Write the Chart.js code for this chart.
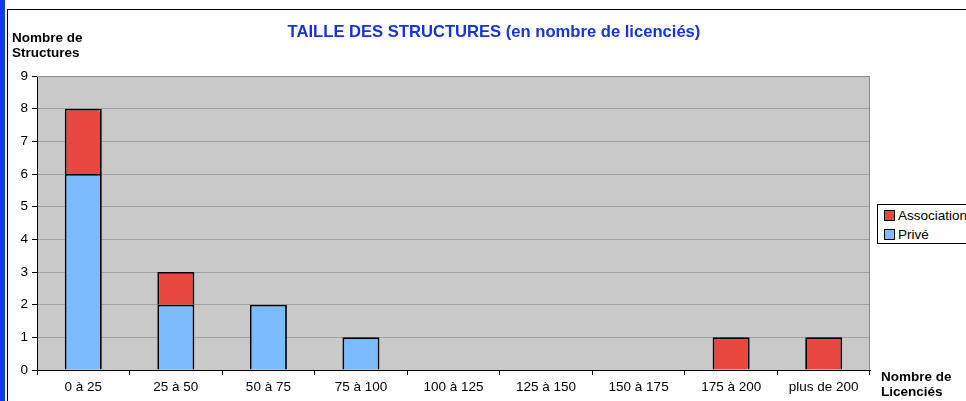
<!DOCTYPE html>
<html><head><meta charset="utf-8">
<script src="https://cdn.jsdelivr.net/npm/chart.js@4"></script>
<style>
html,body{margin:0;padding:0;background:#fff;width:966px;height:401px;overflow:hidden;font-family:"Liberation Sans",Arial,sans-serif;}
#strip{position:absolute;left:0;top:0;width:5px;height:401px;background:#1238F0;}
#frame{position:absolute;left:7px;top:9px;width:970px;height:400px;border-left:1px solid #000;border-top:1px solid #000;}
canvas{position:absolute;left:0;top:0;}
.lbl{position:absolute;font-weight:bold;font-size:13.5px;line-height:15px;color:#000;white-space:nowrap;}
#title{position:absolute;left:0;width:988px;top:22px;text-align:center;font-weight:bold;font-size:16.6px;color:#1633E0;white-space:nowrap;}
#legend{position:absolute;left:877px;top:204px;width:100px;height:38px;border:1px solid #000;background:#fff;font-size:13.5px;}
#legend div{position:absolute;left:6px;height:15px;line-height:15px;white-space:nowrap;}
#legend span{display:inline-block;width:9px;height:9px;border:1px solid #000;margin-right:3px;vertical-align:-1px;}
</style></head>
<body>
<div id="strip"></div>
<div id="frame"></div>
<canvas id="c" width="966" height="401"></canvas>
<div id="title">TAILLE DES STRUCTURES (en nombre de licenciés)</div>
<div class="lbl" style="left:12px;top:30px;">Nombre de<br>Structures</div>
<div class="lbl" style="left:881px;top:369px;">Nombre de<br>Licenciés</div>
<div id="legend"></div>
<script>
const categories = ["0 à 25","25 à 50","50 à 75","75 à 100","100 à 125","125 à 150","150 à 175","175 à 200","plus de 200"];
const prive = [6,2,2,1,0,0,0,0,0];
const association = [2,1,0,0,0,0,0,1,1];
const yTicks = [0,1,2,3,4,5,6,7,8,9];
const seriesNames = ["Association","Privé"];
const colors = {"Association":"#E8473F","Privé":"#7BBBFF"};

const legend = document.getElementById('legend');
seriesNames.forEach((n,i)=>{
  const d=document.createElement('div');
  d.style.top=(3+i*19)+'px';
  d.innerHTML='<span style="background:'+colors[n]+'"></span>'+n;
  legend.appendChild(d);
});

const bgPlugin = {
  id:'bg',
  beforeDraw(chart){
    const {ctx,chartArea:a}=chart;
    ctx.save();
    ctx.fillStyle='#C9C9C9';
    ctx.fillRect(a.left,a.top,a.right-a.left,a.bottom-a.top);
    ctx.restore();
  },
  afterDatasetsDraw(chart){
    const {ctx,chartArea:a}=chart;
    ctx.save();
    ctx.strokeStyle='#8C8C8C';
    ctx.lineWidth=1;
    ctx.beginPath();
    ctx.moveTo(a.left,a.top+0.5);ctx.lineTo(a.right-0.5,a.top+0.5);ctx.lineTo(a.right-0.5,a.bottom);
    ctx.stroke();
    ctx.restore();
  }
};

new Chart(document.getElementById('c'),{
  type:'bar',
  data:{
    labels:categories,
    datasets:[
      {label:"Privé",data:prive.map(v=>v||null),backgroundColor:colors["Privé"],borderColor:"#000",borderWidth:1.8,barPercentage:0.4,categoryPercentage:1},
      {label:"Association",data:association.map(v=>v||null),backgroundColor:colors["Association"],borderColor:"#000",borderWidth:1.8,barPercentage:0.4,categoryPercentage:1}
    ]
  },
  options:{
    responsive:false,
    animation:false,
    devicePixelRatio:1,
    layout:{padding:{left:6,top:76,right:96,bottom:0}},
    plugins:{
      legend:{display:false},
      tooltip:{enabled:false},
      title:{display:false}
    },
    scales:{
      x:{
        stacked:true,
        afterFit(s){s.height=31;},
        grid:{offset:true,drawOnChartArea:false,drawTicks:true,tickLength:5,tickColor:"#000"},
        border:{color:"#000",width:1},
        ticks:{color:"#000",font:{family:"Liberation Sans",size:13.5},padding:4,maxRotation:0,autoSkip:false}
      },
      y:{
        stacked:true,min:0,max:9,
        afterFit(s){s.width=31;},
        afterBuildTicks(s){s.ticks=yTicks.map(v=>({value:v}));},
        grid:{color:"#A2A2A2",tickLength:5,tickColor:"#000"},
        border:{color:"#000",width:1},
        ticks:{color:"#000",font:{family:"Liberation Sans",size:13.5},padding:4}
      }
    }
  },
  plugins:[bgPlugin]
});
</script>
</body></html>
